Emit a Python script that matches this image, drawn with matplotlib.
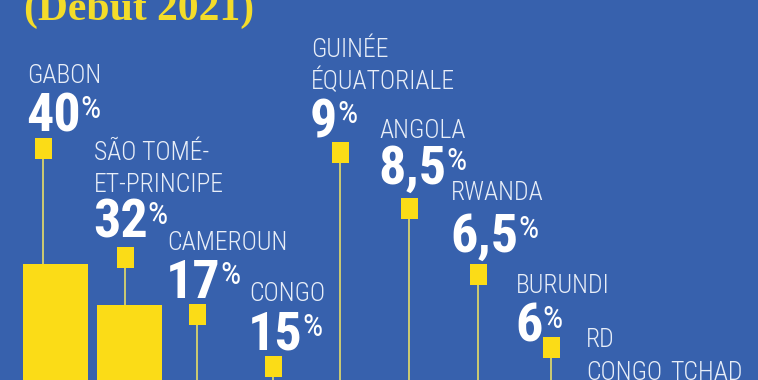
import numpy as np
import matplotlib.pyplot as plt
from matplotlib.patches import Rectangle

# Données (début 2021)
pays = ["GABON", "SÃO TOMÉ-\nET-PRINCIPE", "CAMEROUN", "CONGO",
        "GUINÉE\nÉQUATORIALE", "ANGOLA", "RWANDA", "BURUNDI",
        "RD\nCONGO", "TCHAD"]
valeurs = [40, 32, 17, 15, 9, 8.5, 6.5, 6, np.nan, np.nan]
titre = "(Début 2021)"

# mise en page (pixels, origine en haut à gauche)
ligne_x = [43, 125, 197, 273, 340, 409, 478, 551, None, None]
carre_y = [138, 247, 304, 356, 142, 198, 264, 337, None, None]
barre_x = [55.5, 129, 205, 281, 348, 417, 486, 559, None, None]
label_x = [27, 94, 167, 249, 311, 379, 451, 516, 586, 670]
nom_y = [83, 160, 250, 301, 57, 138, 200, 293, 347, 380]
num_y = [132, 238, 298, 350, 137, 184, 252, 342, None, None]

bleu = '#3761ad'
jaune = '#fbdc17'
trait = '#d8d46c'
police = ['Roboto Condensed', 'DejaVu Sans']

fig = plt.figure(figsize=(7.58, 3.80), dpi=100, facecolor=bleu)

# calque de mise en page
lay = fig.add_axes([0, 0, 1, 1])
lay.set_xlim(0, 758)
lay.set_ylim(380, 0)
lay.axis('off')
lay.set_zorder(1)

# calque des barres (échelle en %)
ax = fig.add_axes([0, 0, 1, 1])
ax.set_xlim(0, 758)
ax.set_ylim(17.6, 90.7)
ax.axis('off')
ax.set_zorder(2)
ax.patch.set_visible(False)

lay.text(24, 20, titre, fontsize=30, color='#f3dc2a', family='Liberation Serif',
         fontweight='bold', ha='left', va='baseline')

for i, nom in enumerate(pays):
    v = valeurs[i]
    # nom du pays, ligne par ligne
    for k, ligne in enumerate(nom.split('\n')):
        lay.text(label_x[i], nom_y[i] + 32.5 * k, ligne, fontsize=18.5,
                 color='#e8eef8', family=police, fontstretch='condensed',
                 fontweight='light', ha='left', va='baseline')
    if np.isnan(v):
        continue
    s = f"{v:g}".replace('.', ',')
    t = lay.text(label_x[i] - 1, num_y[i], s, fontsize=39, color='white',
                 family=police, fontstretch='condensed', fontweight='bold',
                 ha='left', va='baseline')
    lay.annotate('%', xy=(1, 0.95), xycoords=t, xytext=(0, 0), textcoords='offset points',
                 fontsize=23, color='white', family=police, fontstretch='condensed',
                 ha='left', va='top')
    # carré et trait
    lay.add_patch(Rectangle((ligne_x[i] - 8.5, carre_y[i]), 17, 21, color=jaune, lw=0))
    lay.vlines(ligne_x[i], carre_y[i] + 21, 380, color=trait, lw=1.3)

bx = [b for b in barre_x if b is not None]
bv = [v for v in valeurs if not np.isnan(v)]
ax.bar(bx, bv, width=65, color=jaune)

fig.savefig('out.png', dpi=100, facecolor=bleu)
